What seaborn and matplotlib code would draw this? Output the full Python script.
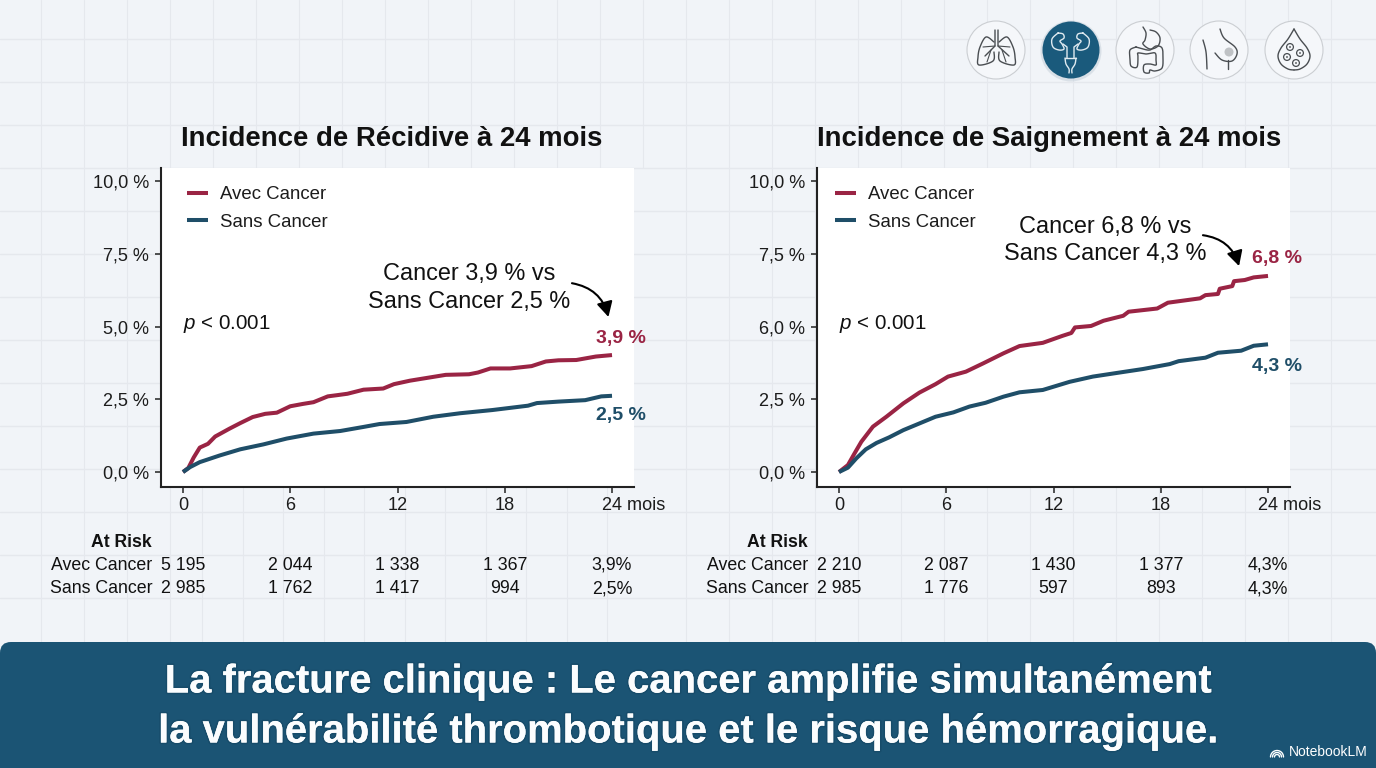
import numpy as np
import pandas as pd
import matplotlib
matplotlib.use("Agg")
import matplotlib.pyplot as plt
import matplotlib.patheffects as pe
from matplotlib.patches import Circle, FancyBboxPatch, PathPatch
from matplotlib.path import Path
from matplotlib.transforms import ScaledTranslation
import seaborn as sns

# Cumulative incidence curves (months, percent)
rec_avec_t = [0, 0.3, 0.6, 0.94, 1.4, 1.8, 2.6, 3.2, 3.9, 4.6, 5.25, 6, 6.7, 7.3, 8.1, 8.6, 9.2, 10.1, 11.2, 11.8,
              12.7, 13.6, 14.7, 16, 16.5, 17.2, 18.3, 19.5, 20.3, 21, 22, 23.1, 24]
rec_avec_y = [0, 0.14, 0.5, 0.84, 0.97, 1.22, 1.49, 1.68, 1.89, 2.0, 2.04, 2.26, 2.34, 2.4, 2.6, 2.64, 2.69, 2.83, 2.87, 3.02,
              3.14, 3.23, 3.34, 3.36, 3.42, 3.56, 3.56, 3.64, 3.8, 3.84, 3.85, 3.97, 4.02]
rec_sans_t = [0, 0.4, 0.94, 2.06, 3.2, 4.5, 5.8, 7.3, 8.8, 10.1, 11, 12.5, 14, 15.5, 17.3, 19.3, 19.8, 21, 22.5, 23.4, 24]
rec_sans_y = [0, 0.17, 0.34, 0.57, 0.78, 0.95, 1.15, 1.32, 1.41, 1.55, 1.65, 1.72, 1.9, 2.02, 2.13, 2.28, 2.37, 2.42, 2.47, 2.6, 2.62]

sai_avec_t = [0, 0.5, 0.87, 1.25, 1.9, 2.65, 3.6, 4.5, 5.4, 6.1, 7.1, 8.05, 9.2, 10.1, 11.4, 12.5, 13.0, 13.2, 14.1, 14.8, 15.9,
              16.2, 17.8, 18.4, 20.2, 20.5, 21.2, 21.3, 22, 22.1, 22.7, 23.2, 24]
sai_avec_y = [0, 0.24, 0.64, 1.04, 1.56, 1.9, 2.36, 2.73, 3.02, 3.28, 3.45, 3.73, 4.08, 4.33, 4.44, 4.68, 4.78, 4.97, 5.02, 5.2, 5.37,
              5.51, 5.62, 5.82, 5.97, 6.08, 6.12, 6.3, 6.39, 6.56, 6.6, 6.69, 6.74]
sai_sans_t = [0, 0.5, 0.97, 1.5, 2.1, 2.8, 3.6, 4.5, 5.4, 6.4, 7.3, 8.2, 9.2, 10.1, 11.4, 12.9, 14.2, 15.7, 17, 18.5, 19,
              20.5, 21.2, 22.5, 23.2, 24]
sai_sans_y = [0, 0.15, 0.47, 0.78, 1.0, 1.19, 1.44, 1.67, 1.9, 2.05, 2.25, 2.38, 2.59, 2.74, 2.82, 3.1, 3.28, 3.42, 3.54, 3.71, 3.81,
              3.93, 4.1, 4.17, 4.34, 4.39]

x_ticks = [0, 6, 12, 18, 24]
x_labels = ["0", "6", "12", "18", "24 mois"]
y_ticks = [0, 2.5, 5, 7.5, 10]
y_labels_rec = ["0,0 %", "2,5 %", "5,0 %", "7,5 %", "10,0 %"]
y_labels_sai = ["0,0 %", "2,5 %", "6,0 %", "7,5 %", "10,0 %"]

risk_avec_rec = ["5 195", "2 044", "1 338", "1 367", "3,9%"]
risk_sans_rec = ["2 985", "1 762", "1 417", "994", "2,5%"]
risk_avec_sai = ["2 210", "2 087", "1 430", "1 377", "4,3%"]
risk_sans_sai = ["2 985", "1 776", "597", "893", "4,3%"]

groups = ["Avec Cancer", "Sans Cancer"]
RED, BLUE, NAVY = "#9a2444", "#1f4e68", "#1b5474"
BG, GRID = "#f1f4f8", "#e5e8ed"

sns.set_theme(style="ticks")
plt.rcParams["font.family"] = ["Liberation Sans", "DejaVu Sans"]
plt.rcParams["mathtext.fontset"] = "custom"
plt.rcParams["mathtext.rm"] = "Liberation Sans"
plt.rcParams["mathtext.it"] = "Liberation Sans:italic"

W, H = 1376, 768
fig = plt.figure(figsize=(W / 100, H / 100), dpi=100, facecolor=BG)

# Page layer in pixel units: squared paper, organ icons, bottom banner
page = fig.add_axes([0, 0, 1, 1], zorder=0)
page.set_xlim(0, W)
page.set_ylim(H, 0)
page.axis("off")

grid_x = list(range(41, 1340, 43))
grid_y = list(range(39, 600, 43))
under_left = [202, 243, 283, 324, 364, 405, 445, 486, 526, 567, 607]
for gx in grid_x:
    if 171 < gx < 645:
        page.plot([gx, gx], [0, 168], color=GRID, lw=0.8, zorder=1)
    else:
        page.plot([gx, gx], [0, 645], color=GRID, lw=0.8, zorder=1)
for gx in under_left:
    page.plot([gx, gx], [487, 645], color=GRID, lw=0.8, zorder=1)
for gy in grid_y:
    page.plot([0, W], [gy, gy], color=GRID, lw=1.0, zorder=1)

page.add_patch(FancyBboxPatch((0, 642), W, 160, boxstyle="round,pad=0,rounding_size=11",
                              fc=NAVY, ec="none", zorder=2))


def curve(points, color, lw=1.0, zorder=4):
    pts = np.array(points, dtype=float)
    codes = [Path.MOVETO] + [Path.LINETO] * (len(pts) - 1)
    page.add_patch(PathPatch(Path(pts, codes), fc="none", ec=color, lw=lw,
                             joinstyle="round", capstyle="round", zorder=zorder))


def smooth(*points):
    # Catmull-Rom pass through hand-placed outline knots
    p = np.array(points, dtype=float)
    p = np.vstack([p[0], p, p[-1]])
    out = []
    for i in range(1, len(p) - 2):
        for s in np.linspace(0, 1, 10, endpoint=False):
            out.append(0.5 * (2 * p[i] + (p[i + 1] - p[i - 1]) * s
                              + (2 * p[i - 1] - 5 * p[i] + 4 * p[i + 1] - p[i + 2]) * s ** 2
                              + (3 * p[i] - p[i - 1] - 3 * p[i + 1] + p[i + 2]) * s ** 3))
    out.append(p[-1])
    return out


def mirror(points, axis):
    return [(2 * axis - x, y) for x, y in points]


for cx, filled in [(996, False), (1071, True), (1145, False), (1219, False), (1294, False)]:
    if filled:
        page.add_patch(Circle((cx, 51), 30.5, fc="#c3ced8", ec="none", alpha=0.5, zorder=2))
        page.add_patch(Circle((cx, 50), 28.5, fc="#1a5a7c", ec="none", zorder=3))
    else:
        page.add_patch(Circle((cx, 50), 29, fc="#f5f7fa", ec="#cbced2", lw=0.8, zorder=3))

INK = "#4a4e52"
# Lungs
lobe = [(994, 42), (986, 37), (980, 47), (978, 57), (979, 65), (993, 61), (994, 52)]
curve(smooth(*lobe), INK)
curve(smooth(*mirror(lobe, 996.5)), INK)
curve([(995, 30), (995, 46), (985, 56)], INK)
curve([(998, 30), (998, 46), (1009, 56)], INK)
curve([(995, 46), (983, 47)], INK, 0.8)
curve([(998, 46), (1010, 47)], INK, 0.8)
curve([(991, 50), (987, 62)], INK, 0.8)
curve([(1002, 50), (1006, 62)], INK, 0.8)

# Kidneys, ureters and bladder
WHITE = "#dfeaf0"
kidney = [(1058, 33), (1052, 39), (1053, 47), (1059, 50), (1064, 49), (1062, 44), (1060, 41), (1064, 38), (1063, 34), (1058, 33)]
curve(smooth(*kidney), WHITE)
curve(smooth(*mirror(kidney, 1070.5)), WHITE)
ureter = [(1063, 44), (1067, 47), (1067, 58)]
curve(ureter, WHITE)
curve(mirror(ureter, 1070.5), WHITE)
curve(smooth((1065, 58), (1066, 64), (1069, 69), (1069, 73)), WHITE)
curve(smooth((1076, 58), (1075, 64), (1072, 69), (1072, 73)), WHITE)
curve([(1065, 58), (1076, 58)], WHITE)

# Digestive tract
curve(smooth((1143, 27), (1146, 33), (1145, 40), (1143, 44), (1150, 49), (1158, 46), (1160, 38), (1156, 32), (1150, 30)), INK)
curve(smooth((1136, 47), (1130, 50), (1130, 58), (1131, 66), (1137, 67), (1138, 57), (1138, 53), (1146, 54), (1155, 53),
             (1156, 60), (1156, 65), (1150, 64), (1144, 65), (1144, 72), (1149, 73), (1150, 70), (1155, 71), (1162, 68),
             (1163, 58), (1162, 48), (1156, 46), (1150, 50), (1143, 49), (1136, 47)), INK)

# Breast with a highlighted lesion
page.add_patch(Circle((1229, 52), 4.5, fc="#bfc2c5", ec="none", zorder=4))
curve(smooth((1220, 29), (1224, 38), (1235, 47), (1237, 54), (1232, 61), (1222, 60), (1215, 53)), INK)
curve(smooth((1203, 40), (1206, 52), (1207, 69)), INK)
curve([(1228, 60), (1228, 69)], INK)

# Blood droplet with cells
drop = [(1294, 29), (1288, 39), (1281, 48), (1278, 56), (1281, 64), (1288, 69), (1294, 70)]
curve(smooth(*drop), INK)
curve(smooth(*mirror(drop, 1294)), INK)
for ox, oy in [(1290, 47), (1287, 57), (1300, 53), (1296, 63)]:
    page.add_patch(Circle((ox, oy), 3.4, fc="none", ec=INK, lw=0.9, zorder=4))
    page.add_patch(Circle((ox, oy), 0.9, fc=INK, ec="none", zorder=4))

halo = [pe.withStroke(linewidth=2.4, foreground="#123f5a", alpha=0.35), pe.Normal()]
page.text(688, 681.5, "La fracture clinique : Le cancer amplifie simultanément", color="#fbfdfe",
          fontsize=28.8, fontweight="bold", ha="center", va="center", zorder=5, path_effects=halo)
page.text(688, 731.5, "la vulnérabilité thrombotique et le risque hémorragique.", color="#fbfdfe",
          fontsize=28.8, fontweight="bold", ha="center", va="center", zorder=5, path_effects=halo)

# NotebookLM mark
for r in (2.5, 4.5, 6.5):
    t = np.linspace(np.pi, 2 * np.pi, 16)
    curve(np.c_[1277 + r * np.cos(t), 757 + r * np.sin(t)], "white", 1.0, zorder=5)
page.text(1289, 752.5, "NotebookLM", color="white", fontsize=10, ha="left", va="center", zorder=5)


def panel(left, title, title_x, legend_x, avec, sans, ylabels, note, note_xy, arrow, end_labels, risk):
    ax = fig.add_axes([left / W, (H - 487) / H, 473 / W, 319 / H], zorder=2, facecolor="white")
    frame = pd.DataFrame({
        "mois": list(avec[0]) + list(sans[0]),
        "incidence": list(avec[1]) + list(sans[1]),
        "groupe": [groups[0]] * len(avec[0]) + [groups[1]] * len(sans[0]),
    })
    sns.lineplot(data=frame, x="mois", y="incidence", hue="groupe", palette=[RED, BLUE],
                 estimator=None, sort=False, errorbar=None, lw=2.9, ax=ax,
                 solid_joinstyle="round", solid_capstyle="butt")
    ax.set_xlim(-1.23, 25.23)
    ax.set_ylim(-0.515, 10.45)
    ax.set_xticks(x_ticks, x_labels)
    ax.set_yticks(y_ticks, ylabels)
    ax.set_xlabel("")
    ax.set_ylabel("")
    ax.tick_params(axis="both", labelsize=13.1, length=4.5, width=1.1, color="#222222",
                   labelcolor="#1c1c1c", pad=4)
    ax.tick_params(axis="x", pad=3)
    last = ax.get_xticklabels()[-1]
    last.set_ha("left")
    last.set_transform(last.get_transform() + ScaledTranslation(-10 / 100, 0, fig.dpi_scale_trans))
    for side in ("top", "right"):
        ax.spines[side].set_visible(False)
    for side in ("left", "bottom"):
        ax.spines[side].set_linewidth(1.5)
        ax.spines[side].set_color("#222222")

    ax.set_title(title, fontsize=19.8, fontweight="bold", color="#111111", pad=15.5, x=title_x)

    handles, labels = ax.get_legend_handles_labels()
    ax.legend(handles, labels, loc="upper left", bbox_to_anchor=(legend_x, 0.984), frameon=False,
              fontsize=13.4, handlelength=1.13, handletextpad=0.65, labelspacing=0.56,
              labelcolor="#1c1c1c", borderaxespad=0.3)

    ax.text(0, 5.08, r"$\mathit{p}$ < 0.001", fontsize=14.8, color="#111111", ha="left", va="center")
    ax.text(note_xy[0], note_xy[1], note, fontsize=16.9, color="#111111", ha="center", va="center",
            linespacing=1.26)
    ax.annotate("", xy=arrow[1], xytext=arrow[0],
                arrowprops=dict(arrowstyle="-|>,head_length=0.75,head_width=0.4", color="black", lw=1.5,
                                connectionstyle="arc3,rad=-0.32", shrinkA=0, shrinkB=0))
    for (ly, text, col) in end_labels:
        ax.text(24.5, ly, text, fontsize=14, fontweight="bold", color=col, ha="center", va="center",
                clip_on=False)

    # Numbers-at-risk table under the axis
    tr = ax.get_xaxis_transform()
    to_ax = lambda py: (487 - py) / 319
    ax.text(-3.43, to_ax(547), "At Risk", transform=tr, fontsize=12.7, fontweight="bold", ha="center",
            va="baseline", color="#111111", clip_on=False)
    for py, name, row in zip((570, 593), groups, risk):
        ax.text(-1.72, to_ax(py), name, transform=tr, fontsize=12.75, ha="right", va="baseline",
                color="#111111", clip_on=False)
        for m, val in zip(x_ticks, row):
            ax.text(m, to_ax(py), val, transform=tr, fontsize=12.75, ha="center", va="baseline",
                    color="#111111", clip_on=False)
    return ax


panel(161, "Incidence de Récidive à 24 mois", 0.487, 0.028, (rec_avec_t, rec_avec_y), (rec_sans_t, rec_sans_y),
      y_labels_rec, "Cancer 3,9 % vs\nSans Cancer 2,5 %", (16.0, 6.34),
      ((21.76, 6.49), (23.8, 5.33)),
      [(4.6, "3,9 %", RED), (1.95, "2,5 %", BLUE)],
      (risk_avec_rec, risk_sans_rec))

panel(817, "Incidence de Saignement à 24 mois", 0.4905, 0.011, (sai_avec_t, sai_avec_y), (sai_sans_t, sai_sans_y),
      y_labels_sai, "Cancer 6,8 % vs\nSans Cancer 4,3 %", (14.9, 7.97),
      ((20.36, 8.14), (22.38, 7.08)),
      [(7.34, "6,8 %", RED), (3.64, "4,3 %", BLUE)],
      (risk_avec_sai, risk_sans_sai))

fig.savefig("out.png", dpi=100, facecolor=fig.get_facecolor())
